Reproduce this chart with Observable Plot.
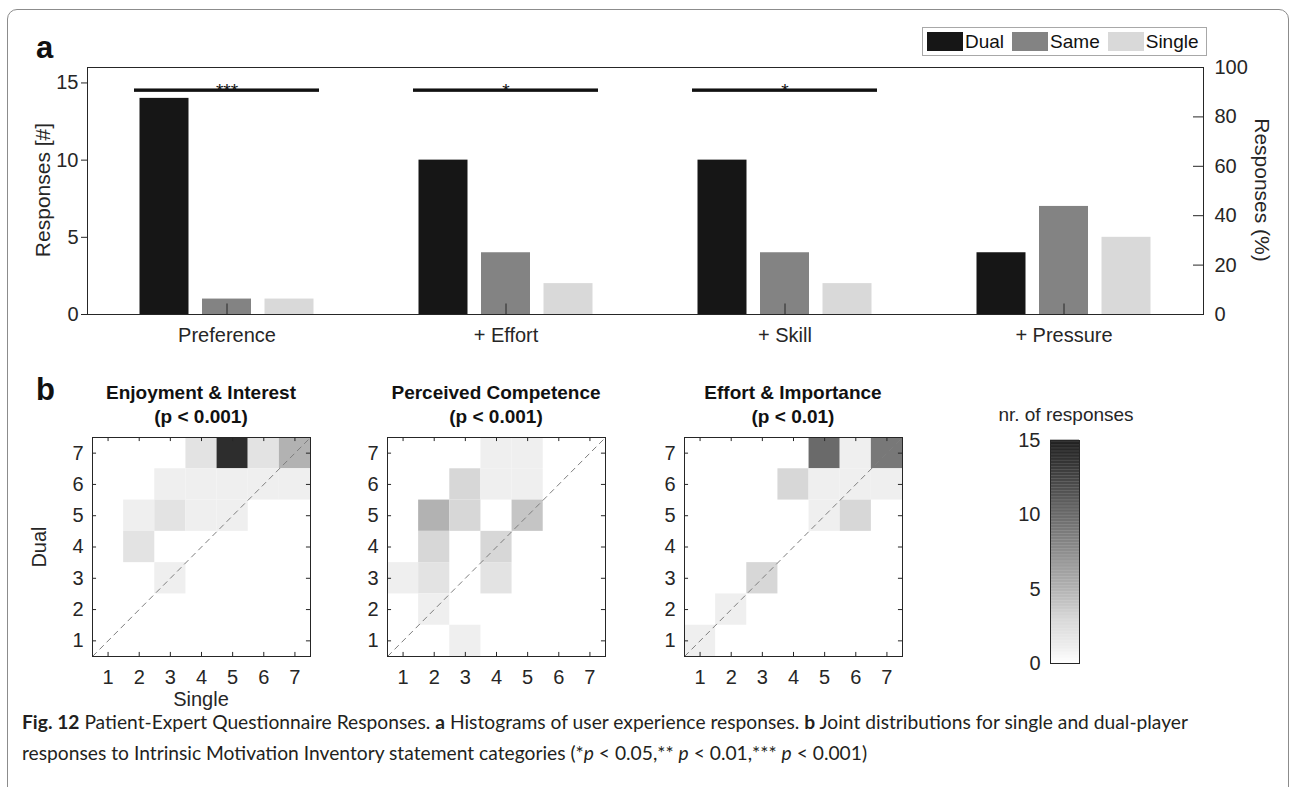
<!DOCTYPE html>
<html>
<head>
<meta charset="utf-8">
<script src="https://cdn.jsdelivr.net/npm/d3@7"></script>
<script src="https://cdn.jsdelivr.net/npm/@observablehq/plot@0.6"></script>
<style>
html,body{margin:0;padding:0;background:#fff;}
#root{position:relative;width:1295px;height:787px;overflow:hidden;font-family:"Liberation Sans",Arial,sans-serif;color:#262626;}
#frame{position:absolute;left:7px;top:9px;width:1280px;height:830px;border:1.5px solid #8c8c8c;border-radius:10px;}
.panel-label{position:absolute;font-family:"Liberation Sans",Arial,sans-serif;font-weight:bold;font-size:31px;line-height:31px;color:#111;}
.title{position:absolute;width:320px;text-align:center;font-weight:bold;font-size:19px;line-height:24px;color:#111;white-space:nowrap;}
.axis-title{position:absolute;white-space:nowrap;font-size:21px;line-height:1;transform-origin:0 0;}
#legend{position:absolute;left:922px;top:27px;width:283px;height:27px;border:1px solid #a8a8a8;background:#fff;display:flex;align-items:center;font-size:19px;color:#111;}
#legend .sw{width:36px;height:19px;margin-left:4px;margin-right:2px;}
#legend .lb{margin-right:4px;}
.caption{position:absolute;left:22px;white-space:nowrap;font-family:Lato,"Open Sans",sans-serif;font-size:19px;line-height:20px;color:#231f20;transform-origin:0 50%;}
</style>
</head>
<body>
<div id="root"><div id="frame"></div></div>
<script>
// ---------------- data ----------------
const categories = ["Preference", "+ Effort", "+ Skill", "+ Pressure"];
const seriesNames = ["Dual", "Same", "Single"];
const dualCounts = [14, 10, 10, 4];
const sameCounts = [1, 4, 4, 7];
const singleCounts = [1, 2, 2, 5];
const sigStars = ["***", "*", "*", ""];
const sigLevels = [14.5, 14.5, 14.5, null];
const totalResponses = 16;
const countTicks = [0, 5, 10, 15];
const percentTicks = [0, 20, 40, 60, 80, 100];

const likertLevels = [1, 2, 3, 4, 5, 6, 7];
const panelTitles = ["Enjoyment & Interest", "Perceived Competence", "Effort & Importance"];
const panelPValues = ["(p < 0.001)", "(p < 0.001)", "(p < 0.01)"];
// [single, dual, count]
const enjoymentCells = [
  [4,7,2],[5,7,14],[6,7,2],[7,7,5],
  [3,6,1],[4,6,1],[5,6,1],[6,6,1],[7,6,1],
  [2,5,1],[3,5,2],[4,5,1],[5,5,1],
  [2,4,2],
  [3,3,1]
];
const competenceCells = [
  [4,7,1],[5,7,1],
  [3,6,3],[4,6,1],[5,6,1],
  [2,5,5],[3,5,3],[5,5,4],
  [2,4,3],[4,4,3],
  [1,3,1],[2,3,2],[4,3,2],
  [2,2,1],
  [3,1,1]
];
const effortCells = [
  [5,7,10],[6,7,1],[7,7,9],
  [4,6,3],[5,6,1],[6,6,1],[7,6,1],
  [5,5,1],[6,5,3],
  [3,3,3],
  [2,2,1],
  [1,1,1]
];
const colorbarTicks = [0, 5, 10, 15];
const colorbarMax = 15;

// ---------------- styles ----------------
const barColors = ["#161616", "#838383", "#d9d9d9"];
const heatDomain = [0, 1, 2, 3, 5, 10, 15];
const heatRange = ["#ffffff", "#efefef", "#e3e3e3", "#d7d7d7", "#b2b2b2", "#6a6a6a", "#1e1e1e"];
const ink = "#262626";
const fontStack = '"Liberation Sans",Arial,sans-serif';
const baseStyle = {background: "transparent", fontFamily: fontStack, fontSize: "20px", color: ink, overflow: "visible"};
const intFormat = d3.format("d");

const root = document.getElementById("root");
function place(el, left, top) {
  el.style.position = "absolute";
  el.style.left = left + "px";
  el.style.top = top + "px";
  root.appendChild(el);
  return el;
}
function addDiv(cls, html, left, top, extra) {
  const d = document.createElement("div");
  d.className = cls;
  d.innerHTML = html;
  d.style.left = left + "px";
  d.style.top = top + "px";
  if (extra) Object.assign(d.style, extra);
  root.appendChild(d);
  return d;
}

// ---------------- panel a ----------------
const barRows = categories.flatMap((c, i) => [
  {category: c, series: "Dual", count: dualCounts[i]},
  {category: c, series: "Same", count: sameCounts[i]},
  {category: c, series: "Single", count: singleCounts[i]}
]);
const sigRows = categories.map((c, i) => ({category: c, stars: sigStars[i], level: sigLevels[i]})).filter(d => d.level != null);

const W = 1295, H = 364, mL = 87, mR = 92, mT = 67, mB = 50;
const frameW = W - mL - mR;
const step = frameW / categories.length;
const barW = 49, barPitch = 62.5;

const barMarks = seriesNames.map((s, j) => {
  const left = step / 2 + (j - 1) * barPitch - barW / 2;
  return Plot.barY(barRows.filter(d => d.series === s), {
    x: "category", y: "count", fill: "series",
    insetLeft: left, insetRight: step - left - barW
  });
});

const barPlot = Plot.plot({
  width: W, height: H, marginLeft: mL, marginRight: mR, marginTop: mT, marginBottom: mB,
  style: baseStyle,
  x: {domain: categories, padding: 0, tickSize: 0, tickPadding: 13, label: null},
  y: {domain: [0, totalResponses], ticks: countTicks, tickFormat: intFormat, tickSize: 6, tickPadding: 3, label: null},
  color: {domain: seriesNames, range: barColors},
  marks: [
    ...barMarks,
    Plot.ruleX(categories, {x: d => d, y1: 0, y2: 0.68, stroke: ink}),
    Plot.barY(sigRows, {x: "category", y1: d => d.level - 0.11, y2: d => d.level + 0.11, fill: "#111", insetLeft: 47, insetRight: 47}),
    Plot.text(sigRows, {x: "category", y: "level", text: "stars", fontSize: 19, fill: "#111"}),
    Plot.frame({stroke: ink})
  ]
});
place(barPlot, 0, 0);

const pctPlot = Plot.plot({
  width: W, height: H, marginLeft: mL, marginRight: mR, marginTop: mT, marginBottom: mB,
  style: baseStyle,
  x: {domain: [0, 1], axis: null},
  y: {domain: [0, 100], ticks: percentTicks, tickFormat: intFormat, axis: "right", tickSize: 0, tickPadding: 11, label: null},
  marks: [
    Plot.ruleY(percentTicks, {y: d => d, x1: 1 - 10 / frameW, x2: 1, stroke: ink})
  ]
});
place(pctPlot, 0, 0);

addDiv("panel-label", "a", 36, 32);
addDiv("axis-title", "Responses [#]", 32, 190, {transform: "rotate(-90deg) translate(-50%, 0)"});
addDiv("axis-title", "Responses (%)", 1273, 190, {transform: "rotate(90deg) translate(-50%, 0)"});

// legend
const legend = document.createElement("div");
legend.id = "legend";
legend.innerHTML = seriesNames.map((s, i) =>
  `<span class="sw" style="background:${barColors[i]}"></span><span class="lb">${s}</span>`).join("");
root.appendChild(legend);

// ---------------- panel b ----------------
addDiv("panel-label", "b", 36, 374);
const hmLefts = [92, 387, 684];
const hmTop = 437, hmSize = 218, hmH = 219;
const axisDomain = [0.5, 7.5];
const tickLen = 0.13;

function heatmap(cells) {
  const data = cells.map(([single, dual, count]) => ({single, dual, count}));
  return Plot.plot({
    width: 40 + hmSize + 10, height: 10 + hmH + 40,
    marginLeft: 40, marginRight: 10, marginTop: 10, marginBottom: 40,
    style: baseStyle,
    x: {domain: axisDomain, ticks: likertLevels, tickFormat: intFormat, tickSize: 0, tickPadding: 13, label: null},
    y: {domain: axisDomain, ticks: likertLevels, tickFormat: intFormat, tickSize: 0, tickPadding: 9, label: null},
    color: {type: "linear", domain: heatDomain, range: heatRange},
    marks: [
      Plot.rect(data, {x1: d => d.single - 0.5, x2: d => d.single + 0.5, y1: d => d.dual - 0.5, y2: d => d.dual + 0.5, fill: "count"}),
      Plot.link([axisDomain], {x1: d => d[0], y1: d => d[0], x2: d => d[1], y2: d => d[1], stroke: "#7e7e7e", strokeWidth: 1, strokeDasharray: "6,4"}),
      Plot.ruleX(likertLevels, {x: d => d, y1: axisDomain[0], y2: axisDomain[0] + tickLen, stroke: ink}),
      Plot.ruleX(likertLevels, {x: d => d, y1: axisDomain[1] - tickLen, y2: axisDomain[1], stroke: ink}),
      Plot.ruleY(likertLevels, {y: d => d, x1: axisDomain[0], x2: axisDomain[0] + tickLen, stroke: ink}),
      Plot.ruleY(likertLevels, {y: d => d, x1: axisDomain[1] - tickLen, x2: axisDomain[1], stroke: ink}),
      Plot.frame({stroke: ink})
    ]
  });
}
[enjoymentCells, competenceCells, effortCells].forEach((cells, i) => {
  place(heatmap(cells), hmLefts[i] - 40, hmTop - 10);
  addDiv("title", panelTitles[i] + "<br>" + panelPValues[i], hmLefts[i] + hmSize / 2 - 160, 381);
});
addDiv("axis-title", "Dual", 29, 547, {fontSize: "20px", transform: "rotate(-90deg) translate(-50%, 0)"});
addDiv("axis-title", "Single", hmLefts[0] + hmSize / 2, 689, {fontSize: "20px", transform: "translate(-50%, 0)"});

// colorbar
const gradient = d3.range(0, colorbarMax, 0.1).map(v => ({lo: v, hi: v + 0.1}));
const cbPlot = Plot.plot({
  width: 90, height: 243, marginLeft: 60, marginRight: 1, marginTop: 10, marginBottom: 10,
  style: baseStyle,
  x: {domain: [0, 1], axis: null},
  y: {domain: [0, colorbarMax], ticks: colorbarTicks, tickFormat: intFormat, tickSize: 0, tickPadding: 10, label: null},
  color: {type: "linear", domain: heatDomain, range: heatRange},
  marks: [
    Plot.rect(gradient, {x1: 0, x2: 1, y1: "lo", y2: d => d.hi + 0.02, fill: d => (d.lo + d.hi) / 2}),
    Plot.frame({stroke: ink})
  ]
});
place(cbPlot, 990, 430);
addDiv("axis-title", "nr. of responses", 1066, 405, {fontSize: "19px", transform: "translate(-50%, 0)"});

// ---------------- caption ----------------
const cap1 = addDiv("caption", '<b>Fig. 12</b> Patient-Expert Questionnaire Responses. <b>a</b> Histograms of user experience responses. <b>b</b> Joint distributions for single and dual-player', 22, 712);
const cap2 = addDiv("caption", 'responses to Intrinsic Motivation Inventory statement categories (*<i>p</i> &lt; 0.05,** <i>p</i> &lt; 0.01,*** <i>p</i> &lt; 0.001)', 22, 743);
const k = 1166 / cap1.getBoundingClientRect().width;
cap1.style.transform = `scaleX(${k})`;
cap2.style.transform = `scaleX(${k})`;
</script>
</body>
</html>
